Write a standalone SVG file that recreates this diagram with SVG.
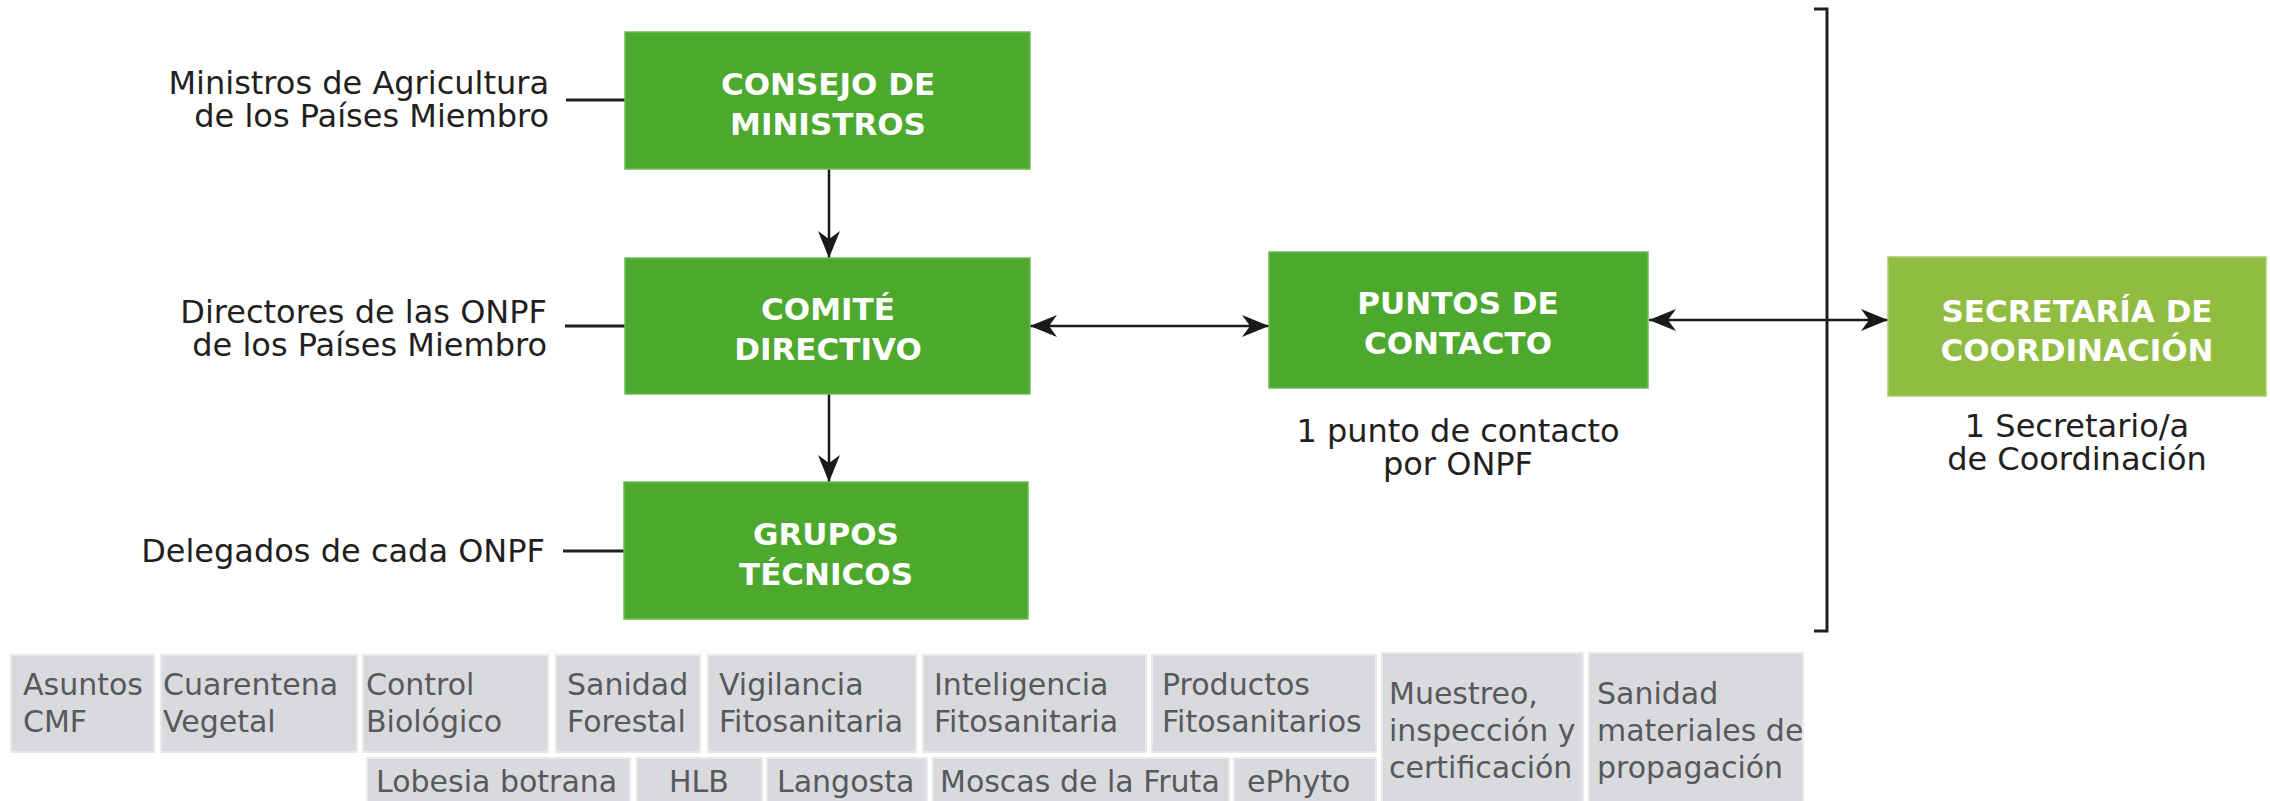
<svg xmlns="http://www.w3.org/2000/svg" width="2270" height="801" viewBox="0 0 2270 801">
<style>
.bg{fill:#ffffff}
.gbox{fill:#4DA82E;stroke:#6DBA55;stroke-width:1.5}
.lbox{fill:#8FBC41;stroke:#A7CB6C;stroke-width:1.5}
.btxt{font-family:"DejaVu Sans",sans-serif;font-weight:bold;font-size:31px;fill:#ffffff;text-anchor:middle}
.lbl{font-family:"DejaVu Sans",sans-serif;font-size:32px;fill:#231F20}
.r{text-anchor:end}
.m{text-anchor:middle}
.tag rect{fill:#D9DADE;stroke:#E8E9EB;stroke-width:2}
.tag text{font-family:"DejaVu Sans",sans-serif;font-size:30px;fill:#58595B}
.ln{stroke:#231F20;stroke-width:3;fill:none}
.ar{stroke:#1A1A1A;stroke-width:2.5;fill:none}
</style>
<defs>
<marker id="ah" markerUnits="userSpaceOnUse" markerWidth="30" markerHeight="26" viewBox="-28 -13 30 26" refX="0" refY="0" orient="auto-start-reverse">
<path d="M0,0 L-27,-11 L-19,0 L-27,11 Z" fill="#1A1A1A"/>
</marker>
</defs>
<rect class="bg" x="0" y="0" width="2270" height="801"/>

<g id="connectors">
<line class="ln" x1="566" y1="100" x2="625" y2="100"/>
<line class="ln" x1="565" y1="326" x2="625" y2="326"/>
<line class="ln" x1="563" y1="551" x2="624" y2="551"/>
<line class="ar" x1="829" y1="169" x2="829" y2="258" marker-end="url(#ah)"/>
<line class="ar" x1="829" y1="394" x2="829" y2="482" marker-end="url(#ah)"/>
<line class="ar" x1="1030" y1="326" x2="1269" y2="326" marker-start="url(#ah)" marker-end="url(#ah)"/>
<line class="ar" x1="1649" y1="320" x2="1888" y2="320" marker-start="url(#ah)" marker-end="url(#ah)"/>
<path class="ln" d="M1814,9 H1827 V631 H1814"/>
</g>

<g id="consejo">
<rect class="gbox" x="625" y="32" width="405" height="137"/>
<text class="btxt" x="828" y="95">CONSEJO DE</text>
<text class="btxt" x="828" y="135">MINISTROS</text>
</g>
<g id="consejo-label">
<text class="lbl r" x="549" y="94">Ministros de Agricultura</text>
<text class="lbl r" x="549" y="127">de los Países Miembro</text>
</g>

<g id="comite">
<rect class="gbox" x="625" y="258" width="405" height="136"/>
<text class="btxt" x="828" y="320">COMITÉ</text>
<text class="btxt" x="828" y="360">DIRECTIVO</text>
</g>
<g id="comite-label">
<text class="lbl r" x="547" y="323">Directores de las ONPF</text>
<text class="lbl r" x="547" y="356">de los Países Miembro</text>
</g>

<g id="grupos">
<rect class="gbox" x="624" y="482" width="404" height="137"/>
<text class="btxt" x="826" y="545">GRUPOS</text>
<text class="btxt" x="826" y="585">TÉCNICOS</text>
</g>
<g id="grupos-label">
<text class="lbl r" x="545" y="562">Delegados de cada ONPF</text>
</g>

<g id="puntos">
<rect class="gbox" x="1269" y="252" width="379" height="136"/>
<text class="btxt" x="1458" y="314">PUNTOS DE</text>
<text class="btxt" x="1458" y="354">CONTACTO</text>
</g>
<g id="puntos-label">
<text class="lbl m" x="1458" y="442">1 punto de contacto</text>
<text class="lbl m" x="1458" y="475">por ONPF</text>
</g>

<g id="secretaria">
<rect class="lbox" x="1888" y="257" width="378" height="139"/>
<text class="btxt" x="2077" y="322">SECRETARÍA DE</text>
<text class="btxt" x="2077" y="361">COORDINACIÓN</text>
</g>
<g id="secretaria-label">
<text class="lbl m" x="2077" y="437">1 Secretario/a</text>
<text class="lbl m" x="2077" y="470">de Coordinación</text>
</g>

<g id="grupos-lista" class="tag">
<g id="t-asuntos"><rect x="11" y="655" width="143" height="97"/><text x="23" y="695">Asuntos</text><text x="23" y="732">CMF</text></g>
<g id="t-cuarentena"><rect x="161" y="655" width="196" height="97"/><text x="163" y="695">Cuarentena</text><text x="163" y="732">Vegetal</text></g>
<g id="t-control"><rect x="363" y="655" width="185" height="97"/><text x="366" y="695">Control</text><text x="366" y="732">Biológico</text></g>
<g id="t-forestal"><rect x="556" y="655" width="144" height="97"/><text x="567" y="695">Sanidad</text><text x="567" y="732">Forestal</text></g>
<g id="t-vigilancia"><rect x="708" y="655" width="208" height="97"/><text x="719" y="695">Vigilancia</text><text x="719" y="732">Fitosanitaria</text></g>
<g id="t-inteligencia"><rect x="923" y="655" width="223" height="97"/><text x="934" y="695">Inteligencia</text><text x="934" y="732">Fitosanitaria</text></g>
<g id="t-productos"><rect x="1152" y="655" width="224" height="97"/><text x="1162" y="695">Productos</text><text x="1162" y="732">Fitosanitarios</text></g>
<g id="t-muestreo"><rect x="1382" y="653" width="201" height="160"/><text x="1389" y="704">Muestreo,</text><text x="1389" y="741">inspección y</text><text x="1389" y="778">certificación</text></g>
<g id="t-materiales"><rect x="1589" y="653" width="214" height="160"/><text x="1597" y="704">Sanidad</text><text x="1597" y="741">materiales de</text><text x="1597" y="778">propagación</text></g>
<g id="t-lobesia"><rect x="367" y="758" width="263" height="55"/><text x="376" y="792">Lobesia botrana</text></g>
<g id="t-hlb"><rect x="637" y="758" width="125" height="55"/><text x="699" y="792" text-anchor="middle">HLB</text></g>
<g id="t-langosta"><rect x="767" y="758" width="160" height="55"/><text x="777" y="792">Langosta</text></g>
<g id="t-moscas"><rect x="933" y="758" width="296" height="55"/><text x="940" y="792">Moscas de la Fruta</text></g>
<g id="t-ephyto"><rect x="1234" y="758" width="142" height="55"/><text x="1247" y="792">ePhyto</text></g>
</g>
</svg>
